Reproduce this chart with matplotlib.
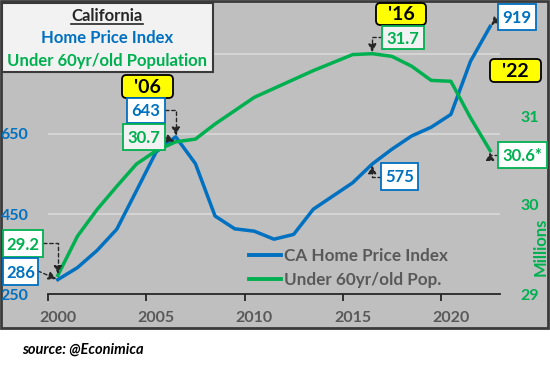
import matplotlib
matplotlib.use("Agg")
import matplotlib.pyplot as plt
from matplotlib.patches import Rectangle, FancyBboxPatch
from matplotlib.lines import Line2D

# ---------------- data ----------------
years = list(range(2000, 2023))
home_price_index = [286, 316, 359, 412, 508, 605, 643, 576, 445, 413, 407, 387, 399,
                    462, 495, 528, 575, 612, 645, 667, 699, 832, 919]
under60_pop = [29.21, 29.65, 29.95, 30.21, 30.46, 30.61, 30.71, 30.74, 30.91, 31.06,
               31.21, 31.31, 31.41, 31.51, 31.60, 31.69, 31.70, 31.67, 31.56, 31.40,
               31.39, 30.98, 30.61]
x_tick_labels = ["2000", "2005", "2010", "2015", "2020"]
left_ticks = [250, 450, 650, 850]
left_tick_labels = ["250", "450", "650", ""]
right_ticks = [29, 30, 31]
title_lines = ["California", "Home Price Index", "Under 60yr/old Population"]
legend_labels = ["CA Home Price Index", "Under 60yr/old Pop."]
year_tags = ["'06", "'16", "'22"]

BLUE = "#0070C0"
GREEN = "#00B050"
GRAY_TXT = "#595959"
BG = "#BFBFBF"
FONT = ["Lato", "DejaVu Sans"]
plt.rcParams["font.family"] = FONT

W, H = 550, 367
fig = plt.figure(figsize=(W / 100, H / 100), dpi=100)
fig.patch.set_facecolor("white")


def fx(x):
    return x / W


def fy(y):
    return 1 - y / H


# chart frame
fig.patches.append(Rectangle((fx(1), fy(328)), fx(548) - fx(1), fy(1) - fy(328),
                             transform=fig.transFigure, facecolor=BG,
                             edgecolor="#3a3a3a", linewidth=2, zorder=-1))

ax = fig.add_axes([fx(48), fy(294), fx(500) - fx(48), fy(5) - fy(294)])
ax.set_facecolor("none")
ax2 = ax.twinx()
ax2.set_facecolor("none")

ax.plot(years, home_price_index, color=BLUE, lw=2.5, solid_joinstyle="round", zorder=3)
ax2.plot(years, under60_pop, color=GREEN, lw=2.5, solid_joinstyle="round", zorder=3)

ax.set_xlim(1999.5, 2022.5)
ax.set_ylim(250, 972.5)
ax2.set_ylim(29, 29 + 289 / 89)

for a in (ax, ax2):
    for s in ["top", "left", "right", "bottom"]:
        a.spines[s].set_visible(False)
ax.spines["bottom"].set_visible(True)
ax.spines["bottom"].set_color("#262626")
ax.spines["bottom"].set_linewidth(1.3)

ax.set_xticks([1999.5, 2004.5, 2009.5, 2014.5, 2019.5])
ax.set_xticklabels([])
ax.tick_params(axis="x", which="major", length=5, width=1.3, color="#262626", direction="out")
ax.set_xticks([int(t) for t in x_tick_labels], minor=True)
ax.set_xticklabels(x_tick_labels, minor=True)
ax.tick_params(axis="x", which="minor", length=0, pad=12, labelsize=11.5,
               labelcolor=GRAY_TXT)
for t in ax.get_xticklabels(minor=True):
    t.set_fontweight("bold")

ax.set_yticks(left_ticks)
ax.set_yticklabels(left_tick_labels)
ax.tick_params(axis="y", length=0, pad=14, labelsize=11.5, labelcolor=BLUE)
for t in ax.get_yticklabels():
    t.set_fontweight("bold")
ax.grid(axis="y", color="#D9D9D9", lw=1.2)
ax.set_axisbelow(True)

ax2.set_yticks(right_ticks)
ax2.tick_params(axis="y", length=0, pad=15, labelsize=11.5, labelcolor=GREEN)
for t in ax2.get_yticklabels():
    t.set_fontweight("bold")
ax2.set_ylabel("Millions", color=GREEN, fontsize=12, fontweight="bold")
ax2.yaxis.set_label_coords(1.072, 0.165)

# legend
handles = [Line2D([], [], color=BLUE, lw=2.8), Line2D([], [], color=GREEN, lw=2.8)]
leg = fig.legend(handles, legend_labels, loc="upper left",
                 bbox_to_anchor=(fx(249), fy(248)), frameon=False, fontsize=12.3,
                 handlelength=1.9, handletextpad=0.15, labelspacing=0.45,
                 borderaxespad=0, borderpad=0)
for t in leg.get_texts():
    t.set_color(GRAY_TXT)
    t.set_fontweight("bold")

# title box
fig.patches.append(Rectangle((fx(2), fy(72)), fx(213) - fx(2), fy(3) - fy(72),
                             transform=fig.transFigure, facecolor="#F2F2F2",
                             edgecolor="#3a3a3a", linewidth=1.5, zorder=2))
t_ca = fig.text(fx(107), fy(16), title_lines[0], ha="center", va="center",
                fontsize=12, fontweight="bold", color="#262626", zorder=4)
fig.text(fx(107), fy(38), title_lines[1], ha="center", va="center",
         fontsize=12, fontweight="bold", color=BLUE, zorder=4)
fig.text(fx(107), fy(61), title_lines[2], ha="center", va="center",
         fontsize=12, fontweight="bold", color=GREEN, zorder=4)


def box(x0, y0, x1, y1, text, color, edge, face, size=11.5, rounded=False):
    if rounded:
        p = FancyBboxPatch((fx(x0), fy(y1)), fx(x1) - fx(x0), fy(y0) - fy(y1),
                           boxstyle="round,pad=0,rounding_size=0.008",
                           transform=fig.transFigure, facecolor=face, edgecolor=edge,
                           linewidth=1.3, zorder=2, mutation_aspect=1.5)
    else:
        p = Rectangle((fx(x0), fy(y1)), fx(x1) - fx(x0), fy(y0) - fy(y1),
                      transform=fig.transFigure, facecolor=face, edgecolor=edge,
                      linewidth=1.3, zorder=2)
    fig.patches.append(p)
    fig.text(fx((x0 + x1) / 2), fy((y0 + y1) / 2 + 1), text, ha="center", va="center",
             fontsize=size, fontweight="bold", color=color, zorder=4)


def arrow(axis, xy, start, conn):
    axis.annotate("", xy=xy, xycoords="data", xytext=(fx(start[0]), fy(start[1])),
                  textcoords="figure fraction", annotation_clip=False,
                  arrowprops=dict(arrowstyle="-|>", color="#262626", lw=1.0,
                                  ls=(0, (2.5, 2)), mutation_scale=12,
                                  shrinkA=0, shrinkB=1, connectionstyle=conn))


ANG = "angle,angleA=0,angleB=90,rad=0"
STR = "arc3,rad=0"

# callouts
i06, i16, i22 = years.index(2006), years.index(2016), years.index(2022)
i00 = years.index(2000)

box(122, 75, 173, 98, year_tags[0], "black", "black", "#FFFF00", size=14, rounded=True)
box(127, 98, 165, 123, str(home_price_index[i06]), BLUE, BLUE, "white", size=12)
box(123, 124, 165, 150, f"{under60_pop[i06]:.1f}", GREEN, GREEN, "#F2F2F2", size=12)
arrow(ax, (2006, home_price_index[i06]), (165, 110), ANG)
arrow(ax2, (2006, under60_pop[i06]), (165, 138), STR)

box(3, 230, 43, 257, f"{under60_pop[i00]:.1f}", GREEN, GREEN, "white", size=12)
box(3, 258, 38, 285, str(home_price_index[i00]), BLUE, BLUE, "white", size=12)
arrow(ax2, (2000, under60_pop[i00]), (43, 243), ANG)
arrow(ax, (2000, home_price_index[i00]), (38, 271), STR)

box(376, 3, 426, 25, year_tags[1], "black", "black", "#FFFF00", size=14, rounded=True)
box(382, 26, 424, 49, f"{under60_pop[i16]:.1f}", GREEN, GREEN, "#F2F2F2", size=12)
arrow(ax2, (2016, under60_pop[i16]), (382, 37), ANG)
box(381, 163, 418, 190, str(home_price_index[i16]), BLUE, BLUE, "white", size=12)
arrow(ax, (2016, home_price_index[i16]), (381, 177), ANG)

box(498, 4, 536, 30, str(home_price_index[i22]), BLUE, BLUE, "white", size=12)
arrow(ax, (2022, home_price_index[i22]), (498, 18), STR)
box(490, 59, 541, 82, year_tags[2], "black", "black", "#FFFF00", size=14, rounded=True)
box(498, 142, 547, 168, f"{under60_pop[i22]:.1f}*", GREEN, GREEN, "white", size=12)
arrow(ax2, (2022, under60_pop[i22]), (498, 155), ANG)

fig.text(fx(22), fy(350), "source: @Econimica", ha="left", va="center", fontsize=10.5,
         fontweight="bold", fontstyle="italic", color="black")

# underline for "California"
fig.canvas.draw()
bb = t_ca.get_window_extent().transformed(fig.transFigure.inverted())
fig.lines.append(Line2D([bb.x0, bb.x1], [fy(23.5), fy(23.5)], transform=fig.transFigure,
                        color="#262626", lw=1.2, zorder=4))

fig.savefig("out.png", dpi=100)
